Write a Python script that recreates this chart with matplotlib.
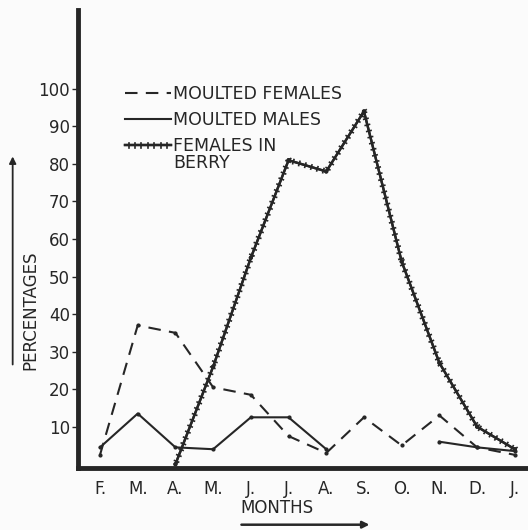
import numpy as np
import matplotlib.pyplot as plt
import matplotlib.patheffects as pe

months = ["F.", "M.", "A.", "M.", "J.", "J.", "A.", "S.", "O.", "N.", "D.", "J."]
moulted_females = [2.5, 37, 35, 20.5, 18.5, 7.5, 3, 12.5, 5, 13, 4.5, 2.5]
moulted_males = [4.5, 13.5, 4.5, 4, 12.5, 12.5, 4, np.nan, np.nan, 6, 4.5, 3.5]
females_in_berry = [np.nan, np.nan, 0, 26, 55, 81, 78, 94, 54, 27, 10, 4]

ink = "#262626"
plt.rcParams['font.family'] = ['DejaVu Sans']

fig = plt.figure(figsize=(5.28, 5.30), dpi=100, facecolor="#fbfbfb")
ax = fig.add_axes([0.148, 0.117, 0.852, 0.864], facecolor="#fbfbfb")
x = np.arange(len(months))

ax.plot(x, moulted_females, color=ink, lw=1.5, ls=(0, (6, 4)),
        marker=".", ms=4, label="MOULTED FEMALES")
ax.plot(x, moulted_males, color=ink, lw=1.5, marker=".", ms=4,
        label="MOULTED MALES")

# crossed line for berried females: ticks on both sides of the stroke
# (TickedStroke can't handle NaN gaps, so plot only the recorded months)
berry = np.array(females_in_berry, dtype=float)
ok = ~np.isnan(berry)
ax.plot(x[ok], berry[ok], color=ink, lw=1.7, marker=".", ms=4,
        label="FEMALES IN",
        path_effects=[pe.withTickedStroke(angle=90, spacing=4.5, length=0.35, linewidth=1.2),
                      pe.withTickedStroke(angle=-90, spacing=4.5, length=0.35, linewidth=1.2)])

ax.set_xlim(-0.58, 11.35)
ax.set_ylim(-1, 121)
ax.set_xticks(x)
ax.set_xticklabels(months, fontsize=12)
ax.set_yticks(range(10, 101, 10))
ax.tick_params(axis="x", length=0, pad=9, colors=ink)
ax.tick_params(axis="y", length=4, width=1, pad=2, labelsize=12, colors=ink)
for s in ["top", "right"]:
    ax.spines[s].set_visible(False)
for s in ["left", "bottom"]:
    ax.spines[s].set_linewidth(3.5)
    ax.spines[s].set_color(ink)

leg = ax.legend(loc="upper left", bbox_to_anchor=(0.105, 0.836), frameon=False,
                handlelength=2.6, handletextpad=0.15, labelspacing=0.47,
                borderpad=0, borderaxespad=0, fontsize=12.5, labelcolor=ink)
for h in leg.legend_handles:
    h.set_marker("")

# second line of the last legend label sits under its first line
fig.canvas.draw()
bb = leg.get_texts()[-1].get_window_extent().transformed(fig.transFigure.inverted())
fig.text(bb.x0, bb.y0 + 0.002, "BERRY", ha="left", va="top", fontsize=12.5, color=ink)

# axis titles with arrows
fig.text(0.057, 0.415, "PERCENTAGES", rotation=90, ha="center", va="center",
         fontsize=12, color=ink)
fig.text(0.525, 0.042, "MONTHS", ha="center", va="center", fontsize=12, color=ink)
ax.annotate("", xy=(0.024, 0.71), xytext=(0.024, 0.307), xycoords="figure fraction",
            arrowprops=dict(arrowstyle="-|>", color=ink, lw=1.3))
ax.annotate("", xy=(0.705, 0.01), xytext=(0.452, 0.01), xycoords="figure fraction",
            arrowprops=dict(arrowstyle="-|>", color=ink, lw=1.8))

fig.savefig("out.png", dpi=100, facecolor=fig.get_facecolor())
